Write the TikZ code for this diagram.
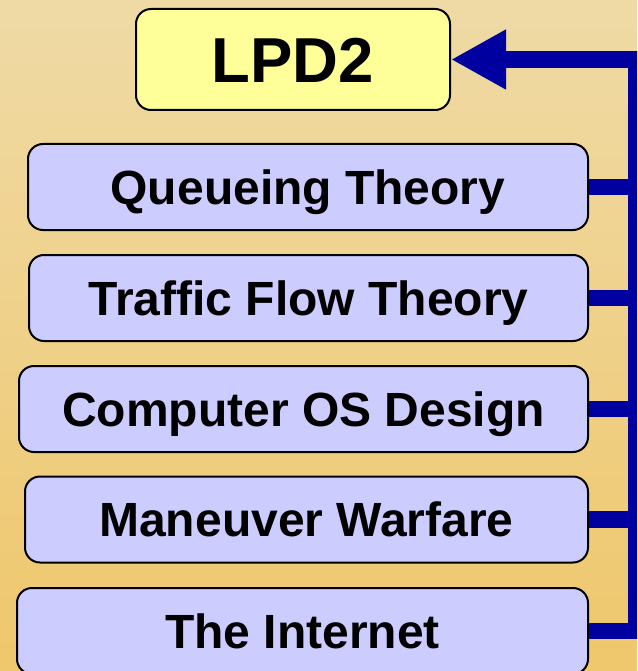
\documentclass[tikz,border=0pt]{standalone}
\usepackage{fontspec}
\setmainfont{Liberation Sans}
\usetikzlibrary{arrows.meta}

\definecolor{bgtop}{RGB}{239,218,166}
\definecolor{bgbottom}{RGB}{239,199,108}
\definecolor{hubfill}{RGB}{255,255,153}
\definecolor{topicfill}{RGB}{204,204,255}
\definecolor{busblue}{RGB}{0,0,160}

\tikzset{
  hubbox/.style={draw=black, line width=2pt, rounded corners=15pt,
    fill=hubfill, minimum width=314pt, minimum height=101pt,
    inner sep=0pt, text height=45.5pt, text depth=0pt,
    font=\fontsize{63.5}{66}\selectfont\bfseries},
  topicbox/.style={draw=black, line width=2pt, rounded corners=15pt,
    fill=topicfill, minimum height=86pt,
    inner sep=0pt, text height=34.4pt, text depth=0pt,
    font=\fontsize{48}{51}\selectfont\bfseries},
  feed/.style={draw=busblue, line width=16.5pt, line join=miter},
}

\begin{document}
\begin{tikzpicture}[x=1pt, y=-1pt]
  \useasboundingbox (0,0) rectangle (637,671);
  \clip (0,0) rectangle (637,671);
  \shade[top color=bgtop, bottom color=bgbottom] (0,0) rectangle (637,671);

  % central box and the five feeding topics
  \node[hubbox] (lpd) at (293,59.5) {LPD2};
  \node[topicbox, minimum width=560pt] (queue)   at (308,187)   {Queueing Theory};
  \node[topicbox, minimum width=559pt] (traffic) at (308.5,298) {Traffic Flow Theory};
  \node[topicbox, minimum width=569pt] (os)      at (303.5,409) {Computer OS Design};
  \node[topicbox, minimum width=563pt] (warfare) at (306.5,519.5) {Maneuver Warfare};
  \node[topicbox, minimum width=571pt] (net)     at (302.5,631) {The Internet};

  % collecting bus on the right edge
  \coordinate (bus) at (636.5,60);
  \draw[feed, -{Triangle[length=55pt, width=56pt]}]
    (net.east) -- (net.east -| bus) |- (lpd.east);
  \foreach \t in {queue, traffic, os, warfare}
    \draw[feed] (\t.east) -- (\t.east -| bus);
\end{tikzpicture}
\end{document}
